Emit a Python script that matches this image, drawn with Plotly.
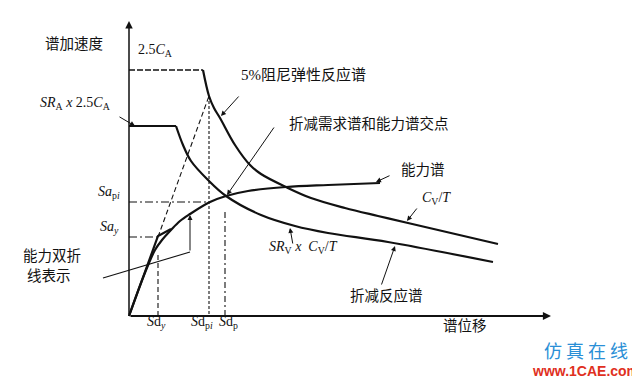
import plotly.graph_objects as go

# ---------------- data (schematic spectra, Sd vs Sa) ----------------
# 5% damped elastic response spectrum (plateau 2.5CA then Cv/T branch)
elastic_plateau_sd = [0.0, 7.4]
elastic_plateau_sa = [2.46, 2.46]
elastic_sd = [7.4, 8.0, 8.5, 9.1, 10.6, 12.1, 13.2, 15.7, 18.2, 21.6, 24.9, 27.9, 36.9]
elastic_sa = [2.46, 2.20, 2.08, 1.98, 1.71, 1.51, 1.42, 1.29, 1.18, 1.08, 1.00, 0.93, 0.72]

# reduced response spectrum (SRA x 2.5CA plateau, then SRv x Cv/T)
reduced_plateau_sd = [0.0, 4.7]
reduced_plateau_sa = [1.90, 1.90]
reduced_sd = [4.7, 5.4, 6.2, 7.9, 9.7, 13.2, 16.6, 19.9, 25.9, 36.4]
reduced_sa = [1.90, 1.71, 1.55, 1.36, 1.20, 1.01, 0.90, 0.83, 0.74, 0.54]

# capacity spectrum
capacity_sd = [0.0, 1.2, 2.0, 2.6, 3.3, 4.2, 5.1, 6.1, 8.1, 9.7, 11.9, 15.7, 19.9, 25.1]
capacity_sa = [0.0, 0.33, 0.53, 0.66, 0.76, 0.86, 0.95, 1.02, 1.14, 1.20, 1.25, 1.29, 1.31, 1.33]

# bilinear representation of capacity
bilinear_sd = [0.0, 2.9, 4.2]
bilinear_sa = [0.0, 0.80, 0.87]

# characteristic points
sd_y, sa_y = 2.9, 0.79
sd_pi, sa_pi = 8.0, 1.14
sd_p, sa_p = 9.6, 1.20
apex_sd, apex_sa = 8.0, 2.20
sd_y_guide_top = 0.62
sd_p_guide_top = 1.05

x_axis_end = 42.2
y_axis_end = 2.95

# ---------------- figure ----------------
INK = "#111111"
CJK = "Noto Sans CJK SC"
SERIF = "Liberation Serif, Noto Sans CJK SC"

fig = go.Figure()

def line(x, y, width=2.2, dash="solid", shape="linear"):
    fig.add_trace(go.Scatter(x=x, y=y, mode="lines",
                             line=dict(color=INK, width=width, dash=dash, shape=shape,
                                       smoothing=1.0 if shape == "spline" else None),
                             hoverinfo="skip", cliponaxis=False))

# spectra
line(elastic_plateau_sd, elastic_plateau_sa, width=1.3, dash="6px,2px")
line(elastic_sd, elastic_sa, width=2.2, shape="spline")
line(reduced_plateau_sd, reduced_plateau_sa, width=2.2)
line(reduced_sd, reduced_sa, width=2.2, shape="spline")
line(capacity_sd, capacity_sa, width=2.2, shape="spline")
line(bilinear_sd, bilinear_sa, width=2.2)

# construction lines
line([sd_y, apex_sd], [sa_y, apex_sa], width=1.1, dash="5px,3px")
line([apex_sd, apex_sd], [apex_sa, 0], width=1.1, dash="3px,2px")
line([0, sd_y], [sa_y, sa_y], width=1.1, dash="8px,3px,2px,3px")
line([0, sd_pi], [sa_pi, sa_pi], width=1.1, dash="8px,3px,2px,3px")
line([sd_y, sd_y], [0, sd_y_guide_top], width=1.1, dash="5px,3px")
line([sd_p, sd_p], [0, sd_p_guide_top], width=1.1, dash="6px,3px,2px,3px")

annotations = []

def arrow(x0, y0, x1, y1, width=1.0, head=2, size=1.0):
    annotations.append(dict(x=x1, y=y1, ax=x0, ay=y0, xref="x", yref="y",
                            axref="x", ayref="y", text="", showarrow=True,
                            arrowhead=head, arrowsize=size, arrowwidth=width,
                            arrowcolor=INK, standoff=0, startstandoff=0))

def label(x, y, text, size=14.5, family=CJK, xanchor="center", color=INK, xref="x", yref="y"):
    annotations.append(dict(x=x, y=y, xref=xref, yref=yref, text=text, showarrow=False,
                            xanchor=xanchor, yanchor="middle", yshift=6,
                            font=dict(family=family, size=size, color=color)))

# axes with arrows
arrow(0, 0, 0, y_axis_end, width=1.5, head=2, size=1.0)
arrow(0, 0, x_axis_end, 0, width=1.8, head=2, size=0.9)

# pointer arrows
arrow(-1.1, 2.00, 0.6, 1.90)
arrow(11.1, 2.21, 9.2, 2.00)
arrow(14.6, 1.90, 9.8, 1.21)
arrow(26.2, 1.41, 24.7, 1.34)
arrow(28.9, 1.09, 27.8, 0.95)
arrow(16.4, 0.71, 16.1, 0.88)
arrow(25.2, 0.30, 26.6, 0.70)
# bilinear pointer (polyline with arrow)
line([-2.6, 6.1], [0.38, 0.64], width=1.1)
arrow(6.1, 0.64, 6.1, 1.01)

# texts
label(-5.5, 2.68, "谱加速度")
label(2.6, 2.60, "2.5<i>C</i><sub>A</sub>", family=SERIF, size=14)
label(-5.4, 2.07, "<i>SR</i><sub>A</sub> <i>x</i> 2.5<i>C</i><sub>A</sub>", family=SERIF, size=14)
label(17.4, 2.36, "5%阻尼弹性反应谱", family=SERIF, size=15)
label(24.0, 1.88, "折减需求谱和能力谱交点")
label(29.4, 1.42, "能力谱")
label(30.7, 1.12, "<i>C</i><sub>V</sub>/<i>T</i>", family=SERIF, size=14)
label(17.4, 0.63, "<i>SR</i><sub>V</sub> <i>x</i>  <i>C</i><sub>V</sub>/<i>T</i>", family=SERIF, size=14)
label(25.7, 0.16, "折减反应谱")
label(33.6, -0.14, "谱位移")
label(-10.8, 0.56, "能力双折", xanchor="left")
label(-10.4, 0.36, "线表示", xanchor="left")
label(2.7, -0.12, "<i>S</i>d<sub><i>y</i></sub>", family=SERIF, size=14)
label(7.3, -0.12, "<i>S</i>d<sub>p<i>i</i></sub>", family=SERIF, size=14)
label(9.9, -0.12, "<i>S</i>d<sub>p</sub>", family=SERIF, size=14)
label(-0.7, 1.18, "<i>Sa</i><sub>p<i>i</i></sub>", family=SERIF, size=14, xanchor="right")
label(-0.8, 0.83, "<i>Sa</i><sub><i>y</i></sub>", family=SERIF, size=14, xanchor="right")

# site mark in the corner
label(0.903, 0.085, "仿 真 在 线", size=18, color="#2a8fd6", xref="paper", yref="paper")
label(0.903, 0.030, "<b>www.1CAE.com</b>", family="Liberation Sans", size=14,
      color="#e0301e", xref="paper", yref="paper")

fig.update_layout(
    width=640, height=380, autosize=False,
    margin=dict(l=0, r=0, t=0, b=0),
    paper_bgcolor="white", plot_bgcolor="white",
    showlegend=False,
    xaxis=dict(range=[-12.1, 51.9], visible=False, fixedrange=True),
    yaxis=dict(range=[-0.72, 3.08], visible=False, fixedrange=True),
    annotations=annotations,
)

fig.write_html("out.html")
